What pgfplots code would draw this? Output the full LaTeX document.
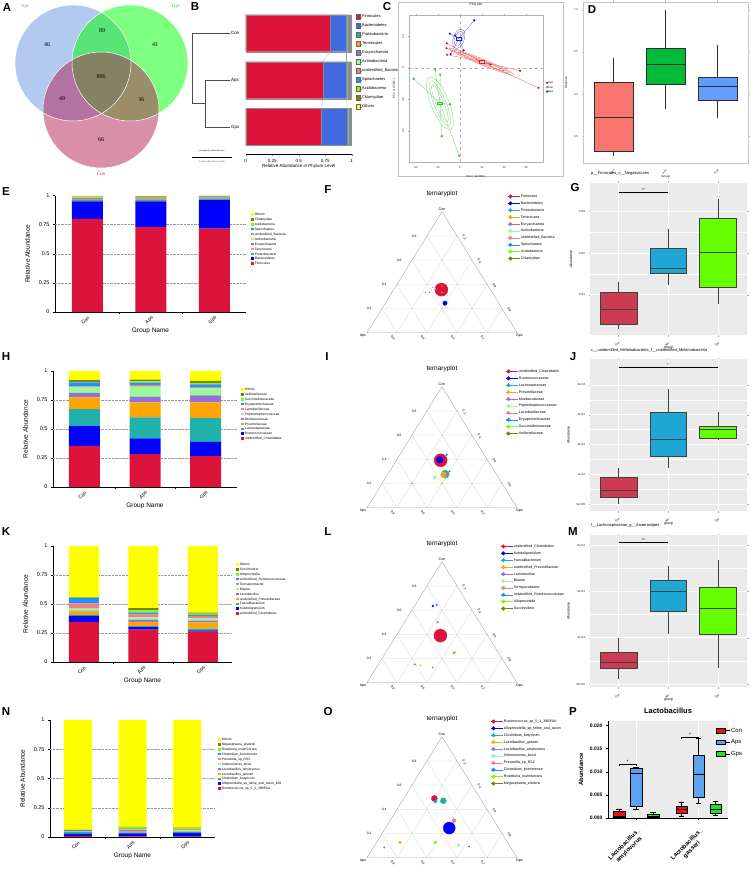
\documentclass[border=0pt]{standalone}
\usepackage{fontspec}
\setmainfont{Liberation Sans}
\newfontfamily\vennfont{Liberation Serif}
\usepackage{pgfplots}
\usepackage{pgfplotstable}
\pgfplotsset{compat=1.18}
\usepgfplotslibrary{statistics}
\usetikzlibrary{shapes.geometric}

\newcommand{\fs}[1]{\fontsize{#1}{#1}\selectfont}

% palette of the stacked bars, rank 1..10 and Others
\definecolor{c1}{HTML}{DC143C}
\definecolor{c2}{HTML}{0000FF}
\definecolor{c3}{HTML}{20B2AA}
\definecolor{c4}{HTML}{FFA500}
\definecolor{c5}{HTML}{9370DB}
\definecolor{c6}{HTML}{98FB98}
\definecolor{c7}{HTML}{F08080}
\definecolor{c8}{HTML}{1E90FF}
\definecolor{c9}{HTML}{7CFC00}
\definecolor{c10}{HTML}{808000}
\definecolor{c11}{HTML}{FFFF00}
\colorlet{b1}{c1}\definecolor{b2}{HTML}{4169E1}\colorlet{b3}{c3}\colorlet{b4}{c4}
\colorlet{b5}{c5}\colorlet{b6}{c6}\colorlet{b7}{c7}\colorlet{b8}{c8}
\colorlet{b9}{c9}\colorlet{b10}{c10}\colorlet{b11}{c11}
\definecolor{vA}{HTML}{6693E1}
\definecolor{vG}{HTML}{00FF00}
\definecolor{vC}{HTML}{B31F51}
\definecolor{pcaR}{HTML}{E41A1C}
\definecolor{pcaG}{HTML}{33C033}
\definecolor{pcaB}{HTML}{1A1ADD}
\definecolor{dCon}{HTML}{F8766D}
\definecolor{dAps}{HTML}{00BA38}
\definecolor{dGps}{HTML}{619CFF}
\definecolor{gCon}{HTML}{CC3D54}
\definecolor{gAps}{HTML}{1FA8D6}
\definecolor{gGps}{HTML}{66FF00}
\definecolor{pCon}{HTML}{EE1111}
\definecolor{pAps}{HTML}{5DA2EE}
\definecolor{pGps}{HTML}{22E022}
\definecolor{ggbg}{HTML}{EBEBEB}

% relative abundance, columns = rank 1..10 and Others; x: 0 Con, 1 Aps, 2 Gps
\pgfplotstableread{
x c1 c2 c3 c4 c5 c6 c7 c8 c9 c10 c11
0 0.800 0.150 0.012 0.010 0.005 0.004 0.003 0.004 0.002 0.003 0.007
1 0.730 0.220 0.012 0.008 0.005 0.004 0.003 0.005 0.002 0.004 0.007
2 0.715 0.245 0.012 0.008 0.004 0.003 0.002 0.003 0.002 0.002 0.004
}\phylum
\pgfplotstableread{
x c1 c2 c3 c4 c5 c6 c7 c8 c9 c10 c11
0 0.355 0.170 0.147 0.100 0.040 0.050 0.005 0.035 0.005 0.015 0.078
1 0.284 0.136 0.180 0.130 0.050 0.085 0.015 0.020 0.010 0.015 0.075
2 0.267 0.123 0.203 0.137 0.060 0.065 0.005 0.025 0.010 0.020 0.085
}\family
\pgfplotstableread{
x c1 c2 c3 c4 c5 c6 c7 c8 c9 c10 c11
0 0.345 0.052 0.008 0.030 0.005 0.020 0.045 0.045 0.005 0.005 0.440
1 0.280 0.020 0.010 0.035 0.020 0.020 0.025 0.015 0.020 0.020 0.535
2 0.262 0.010 0.015 0.055 0.015 0.020 0.020 0.010 0.010 0.008 0.575
}\genus
\pgfplotstableread{
x c1 c2 c3 c4 c5 c6 c7 c8 c9 c10 c11
0 0.0098 0.018 0.014 0.002 0.001 0.002 0.0046 0.007 0.0025 0.0006 0.9385
1 0.0061 0.025 0.008 0.011 0.010 0.007 0.0040 0.0047 0.0096 0.0016 0.9130
2 0.0041 0.032 0.008 0.002 0.001 0.011 0.0064 0.0033 0.0078 0.0038 0.9206
}\species

\pgfplotsset{
  every axis/.append style={scale only axis, /pgf/number format/assume math mode=true},
  stackbars/.style={
    ybar stacked, anchor=south west, ymin=0, ymax=1,
    axis x line*=bottom, axis y line*=left, axis line style={line width=0.5pt},
    xtick={0,1,2}, xticklabels={Con,Aps,Gps}, xtick style={draw=none},
    ytick={0,0.25,0.5,0.75,1}, yticklabels={0,0.25,0.5,0.75,1},
    ytick style={draw=black, line width=0.4pt}, tick align=outside, major tick length=2pt,
    extra y ticks={0.25,0.5,0.75}, extra y tick labels={},
    extra y tick style={grid=major, major tick length=0pt},
    major grid style={densely dotted, gray!80, line width=0.4pt},
    y tick label style={font=\fs{5.5}},
    x tick label style={font=\fs{5}, rotate=45, anchor=north east, inner sep=1pt},
    xlabel={Group Name}, ylabel={Relative Abundance}, label style={font=\fs{6.5}},
    xlabel style={at={(axis description cs:0.5,0)}, anchor=north, yshift=-12.5pt},
    clip=false,
    legend style={anchor=north west, draw=none, fill=none, font=\fs{3.3},
      row sep=0.8pt, inner sep=0pt,
      nodes={inner sep=0.3pt, text height=2.7pt, text depth=0.8pt}},
    legend cell align=left, reverse legend,
    legend image code/.code={\path (0pt,0pt) -- (3.4pt,0pt);
      \fill[##1,/tikz/.cd] (0pt,-0.9pt) rectangle (2.4pt,1.5pt);},
  },
  tern/.style={anchor=south west, width=150pt, height=121pt,
    xmin=0, xmax=1, ymin=0, ymax=0.866, hide axis, clip=false,
    legend style={anchor=north west, draw=none, fill=none,
      font=\fs{3.6}, row sep=2.7pt, inner sep=0pt,
      nodes={inner sep=0.3pt, text height=2.8pt, text depth=0.8pt}},
    legend cell align=left,
  },
  ternleg/.style={legend image code/.code={\path (0pt,0pt) -- (12pt,0pt);
      \fill[##1] (2pt,0pt) circle (1.8pt);}},
  ggbox/.style={anchor=south west, width=157pt, height=152pt,
    xmin=0.427, xmax=3.583, axis background/.style={fill=ggbg},
    axis line style={draw=none}, xmajorgrids, ymajorgrids,
    grid style={white, line width=0.6pt},
    minor y tick num=1, yminorgrids, minor grid style={white, line width=0.3pt},
    minor tick length=0pt,
    xtick={1,2,3}, xticklabels={Con,Aps,Gps},
    tick style={draw=gray!60}, major tick length=1.5pt, tick align=outside,
    x tick label style={rotate=45, anchor=north east, font=\fs{3}, text=gray!30!black},
    y tick label style={font=\fs{3}, text=gray!30!black},
    xlabel={group}, ylabel={Abundance}, label style={font=\fs{3.5}},
    xlabel style={at={(axis description cs:0.5,0)}, anchor=north, yshift=-8pt},
    title style={at={(0,1)}, anchor=south west, font=\fs{4}, inner sep=1pt},
    scaled y ticks=false, clip=false, boxplot/draw direction=y,
  },
}

% ternary point: colour, size, Con, Aps, Gps shares
\newcommand{\tp}[5]{\addplot[only marks, mark=*, color=#1, mark size=#2pt, ternleg]
  table[row sep=\\, x expr={\thisrow{g}+0.5*\thisrow{c}}, y expr={0.866*\thisrow{c}}]
  {c a g\\ #3 #4 #5\\};}

\newcommand{\ternframe}{%
  \draw[gray!35, line width=0.25pt]
    (axis cs:0.1,0.1732) -- (axis cs:0.9,0.1732)
    (axis cs:0.2,0.3464) -- (axis cs:0.8,0.3464)
    (axis cs:0.3,0.5196) -- (axis cs:0.7,0.5196)
    (axis cs:0.4,0.6928) -- (axis cs:0.6,0.6928)
    (axis cs:0.2,0) -- (axis cs:0.6,0.6928)
    (axis cs:0.4,0) -- (axis cs:0.7,0.5196)
    (axis cs:0.6,0) -- (axis cs:0.8,0.3464)
    (axis cs:0.8,0) -- (axis cs:0.9,0.1732)
    (axis cs:0.8,0) -- (axis cs:0.4,0.6928)
    (axis cs:0.6,0) -- (axis cs:0.3,0.5196)
    (axis cs:0.4,0) -- (axis cs:0.2,0.3464)
    (axis cs:0.2,0) -- (axis cs:0.1,0.1732);
  \draw[gray!75, line width=0.35pt] (axis cs:0,0) -- (axis cs:1,0) -- (axis cs:0.5,0.866) -- cycle;
  \node[font=\fs{6.5}] at (axis cs:0.5,0.866) [yshift=18pt] {ternaryplot};
  \node[font=\fs{3.6}, anchor=south, inner sep=0.8pt] at (axis cs:0.5,0.866) {Con};
  \node[font=\fs{3.6}, anchor=north east, inner sep=0.8pt] at (axis cs:0,0) {Aps};
  \node[font=\fs{3.6}, anchor=north west, inner sep=0.8pt] at (axis cs:1,0) [xshift=-2pt] {Gps};
  \node[font=\fs{3.3}, anchor=east] at (axis cs:0.4,0.6928) [xshift=-7pt] {0.8};
  \node[font=\fs{3.3}, anchor=east] at (axis cs:0.3,0.5196) [xshift=-7pt] {0.6};
  \node[font=\fs{3.3}, anchor=east] at (axis cs:0.2,0.3464) [xshift=-7pt] {0.4};
  \node[font=\fs{3.3}, anchor=east] at (axis cs:0.1,0.1732) [xshift=-7pt] {0.2};
  \node[font=\fs{3.3}, rotate=-60] at (axis cs:0.6,0.6928) [xshift=4.7pt, yshift=5.8pt] {0.2};
  \node[font=\fs{3.3}, rotate=-60] at (axis cs:0.7,0.5196) [xshift=4.7pt, yshift=5.8pt] {0.4};
  \node[font=\fs{3.3}, rotate=-60] at (axis cs:0.8,0.3464) [xshift=4.7pt, yshift=5.8pt] {0.6};
  \node[font=\fs{3.3}, rotate=-60] at (axis cs:0.9,0.1732) [xshift=4.7pt, yshift=5.8pt] {0.8};
  \node[font=\fs{3.3}, rotate=-60] at (axis cs:0.2,0) [xshift=2pt, yshift=-6pt] {0.8};
  \node[font=\fs{3.3}, rotate=-60] at (axis cs:0.4,0) [xshift=2pt, yshift=-6pt] {0.6};
  \node[font=\fs{3.3}, rotate=-60] at (axis cs:0.6,0) [xshift=2pt, yshift=-6pt] {0.4};
  \node[font=\fs{3.3}, rotate=-60] at (axis cs:0.8,0) [xshift=2pt, yshift=-6pt] {0.2};
}

\begin{document}
\begin{tikzpicture}
\useasboundingbox (0pt,0pt) rectangle (750pt,-877pt);

% panel letters
\foreach \l/\x/\y in {A/7/8,B/195/7,C/387/7,D/592/10,E/6/192,F/328/190,G/575/188,
  H/6/357,I/327/357,J/573/357,K/6/532,L/328/532,M/573/532,N/6/712,O/328/712,P/573/712}
  \node[font=\bfseries\fs{11.5}] at (\x pt,-\y pt) {\l};

% ---------- A: Venn ----------
\begin{axis}[at={(0pt,0pt)}, anchor=north west, width=190pt, height=180pt,
  xmin=0, xmax=190, ymin=0, ymax=180, y dir=reverse, hide axis, clip=false]
\fill[vA, fill opacity=0.5] (axis cs:73,63) circle[radius=58pt];
\fill[vG, fill opacity=0.5] (axis cs:130,63) circle[radius=58pt];
\fill[vC, fill opacity=0.5] (axis cs:101,110) circle[radius=58pt];
\draw[white, line width=0.5pt] (axis cs:73,63) circle[radius=58pt]
  (axis cs:130,63) circle[radius=58pt] (axis cs:101,110) circle[radius=58pt];
\node[font=\vennfont\fs{6}] at (axis cs:47,45) {46};
\node[font=\vennfont\fs{6}] at (axis cs:102,31) {89};
\node[font=\vennfont\fs{6}] at (axis cs:155,45) {41};
\node[font=\vennfont\fs{6}] at (axis cs:101,77) {806};
\node[font=\vennfont\fs{6}] at (axis cs:62,99) {49};
\node[font=\vennfont\fs{6}] at (axis cs:141,100) {36};
\node[font=\vennfont\fs{6}] at (axis cs:101,140) {66};
\node[font=\vennfont\fs{5}, text=vA] at (axis cs:25,6) {Aps};
\node[font=\vennfont\fs{5}, text=pcaG] at (axis cs:176,6) {Gps};
\node[font=\vennfont\fs{5}, text=c1] at (axis cs:101,174) {Con};
\end{axis}

% ---------- B: cluster + phylum bars ----------
\begin{axis}[xbar stacked, at={(245.7pt,-154pt)}, anchor=south west, width=106pt, height=142pt,
  xmin=0, xmax=1, ymin=-0.574, ymax=2.45, bar width=37pt,
  axis x line*=bottom, axis y line=none, axis line style={line width=0.4pt},
  xtick={0,0.25,0.5,0.75,1}, xticklabels={0,0.25,0.5,0.75,1},
  tick align=outside, major tick length=2pt, x tick label style={font=\fs{4.5}},
  xlabel={Relative Abundance in Phylum Level},
  xlabel style={font=\fs{4.5}, at={(axis description cs:0.5,0)}, anchor=north, yshift=-7pt},
  legend style={at={(1.04,0.989)}, anchor=north west, draw=none, fill=none, font=\fs{4},
    row sep=3.3pt, inner sep=0pt, nodes={inner sep=0.3pt, text height=3.8pt, text depth=1.3pt}},
  legend cell align=left,
  legend image code/.code={\path (0pt,0pt) -- (5.5pt,0pt);
    \draw[#1,/tikz/.cd, draw=black!60, line width=0.2pt] (0pt,-2pt) rectangle (4pt,2.6pt);}]
\pgfplotsinvokeforeach{1,...,11}{\addplot[fill=b#1, draw=black!45, line width=0.15pt]
  table[x=c#1, y expr={2-\thisrow{x}}] {\phylum};}
\legend{Firmicutes,Bacteroidetes,Proteobacteria,Tenericutes,Euryarchaeota,Actinobacteria,
  unidentified\_Bacteria,Spirochaetes,Acidobacteria,Chlamydiae,Others}
\end{axis}
\begin{axis}[at={(245.7pt,-154pt)}, anchor=south west, width=106pt, height=142pt,
  xmin=0, xmax=1, ymin=-0.574, ymax=2.45, hide axis, clip=false]
\addplot[gray!60!black, line width=0.45pt] coordinates {(-0.148,2) (-0.507,2) (-0.507,0.5) (-0.382,0.5)};
\addplot[gray!60!black, line width=0.45pt] coordinates {(-0.148,1) (-0.382,1) (-0.382,0) (-0.148,0)};
\addplot[gray!70, line width=0.2pt] coordinates {(0.80,1.606) (0.73,1.394)};
\addplot[gray!70, line width=0.2pt] coordinates {(0.95,1.606) (0.95,1.394)};
\addplot[gray!70, line width=0.2pt] coordinates {(0.73,0.606) (0.715,0.394)};
\addplot[gray!70, line width=0.2pt] coordinates {(0.95,0.606) (0.96,0.394)};
\node[font=\fs{4.5}, anchor=west, inner sep=1pt] at (axis cs:-0.148,2) {Con};
\node[font=\fs{4.5}, anchor=west, inner sep=1pt] at (axis cs:-0.148,1) {Aps};
\node[font=\fs{4.5}, anchor=west, inner sep=1pt] at (axis cs:-0.148,0) {Gps};
\addplot[black, line width=0.3pt] coordinates {(-0.507,-0.64) (-0.13,-0.64)};
\node[font=\fs{2}] at (axis cs:-0.32,-0.52) {unweighted\_unifrac Distance};
\node[font=\fs{1.8}] at (axis cs:-0.32,-0.75) {0 \ 0.025 \ 0.05 \ 0.075 \ 0.1 \ 0.125};
\end{axis}

% ---------- C: PCA ----------
\draw[gray!50, line width=0.3pt] (398pt,-2pt) rectangle (563pt,-176pt);
\begin{axis}[at={(409pt,-162pt)}, anchor=south west, width=134pt, height=147pt,
  xmin=-23, xmax=37.6, ymin=-29.8, ymax=16.8,
  axis line style={gray!60, line width=0.3pt}, tick style={gray!60}, major tick length=1.2pt,
  tick align=outside, xtick={-20,-10,0,10,20,30}, xticklabels={-20,-10,0,10,20,30},
  ytick={-20,-10,0,10}, yticklabels={-20,-10,0,10},
  tick label style={font=\fs{2.8}, text=gray!30!black}, y tick label style={rotate=90},
  xlabel={PC1 ( 14.63\% )}, ylabel={PC2 ( 10.59\% )}, label style={font=\fs{2.8}},
  title={PCA plot}, title style={font=\fs{3.2}, yshift=-1pt}, clip=false,
  legend style={at={(1.022,0.551)}, anchor=north west, draw=none, fill=none, font=\fs{2.8},
    row sep=1.2pt, inner sep=0pt, nodes={inner sep=0.2pt, text height=2.2pt, text depth=0.6pt}},
  legend cell align=left]
\addplot[only marks, mark=*, mark size=0.9pt, color=pcaR] coordinates
  {(-5.9,7.8) (-6.1,6.3) (-5.8,4.2) (13.8,1.1) (27.3,-0.9) (35.6,-6.3)};
\addplot[only marks, mark=*, mark size=0.9pt, color=pcaG] coordinates
  {(-20.9,-3.4) (-11.2,-0.5) (-8.9,-2.1) (-4.4,-11.5) (-8.2,-21.6) (-0.3,-27.9)};
\addplot[only marks, mark=*, mark size=0.9pt, color=pcaB] coordinates
  {(6.5,15.1) (-4.5,10.9) (-2.1,10.3) (1.7,5.6) (-4.2,4.4)};
\legend{Aps,Con,Gps}
\draw[gray!60, dashed, line width=0.25pt] (axis cs:0,-29.8) -- (axis cs:0,16.8)
  (axis cs:-23,0) -- (axis cs:37.6,0);
\addplot[pcaR!70, line width=0.3pt, forget plot] coordinates {(-5.9,7.8) (9.8,2.0) (-6.1,6.3)
  (9.8,2.0) (-5.8,4.2) (9.8,2.0) (13.8,1.1) (9.8,2.0) (27.3,-0.9) (9.8,2.0) (35.6,-6.3)};
\addplot[pcaG!70, line width=0.3pt, forget plot] coordinates {(-20.9,-3.4) (-9.0,-11.2) (-11.2,-0.5)
  (-9.0,-11.2) (-8.9,-2.1) (-9.0,-11.2) (-4.4,-11.5) (-9.0,-11.2) (-8.2,-21.6) (-9.0,-11.2) (-0.3,-27.9)};
\addplot[pcaB!70, line width=0.3pt, forget plot] coordinates {(6.5,15.1) (-0.5,9.3) (-4.5,10.9)
  (-0.5,9.3) (-2.1,10.3) (-0.5,9.3) (1.7,5.6) (-0.5,9.3) (-4.2,4.4)};
\node[draw=pcaR!70, ellipse, minimum width=70pt, minimum height=6pt, inner sep=0pt, rotate=-22, line width=0.3pt] at (axis cs:9.8,2.0) {};
\node[draw=pcaR!70, ellipse, minimum width=60pt, minimum height=4pt, inner sep=0pt, rotate=-22, line width=0.3pt] at (axis cs:9.8,2.0) {};
\node[draw=pcaR!70, ellipse, minimum width=50pt, minimum height=2.5pt, inner sep=0pt, rotate=-22, line width=0.3pt] at (axis cs:9.8,2.0) {};
\node[draw=pcaG!70, ellipse, minimum width=56pt, minimum height=18pt, inner sep=0pt, rotate=-68, line width=0.3pt] at (axis cs:-9.0,-11.2) {};
\node[draw=pcaG!70, ellipse, minimum width=48pt, minimum height=12pt, inner sep=0pt, rotate=-68, line width=0.3pt] at (axis cs:-9.0,-11.2) {};
\node[draw=pcaG!70, ellipse, minimum width=40pt, minimum height=8pt, inner sep=0pt, rotate=-68, line width=0.3pt] at (axis cs:-9.0,-11.2) {};
\node[draw=pcaB!70, ellipse, minimum width=20pt, minimum height=11pt, inner sep=0pt, rotate=70, line width=0.3pt] at (axis cs:-0.5,9.3) {};
\node[draw=pcaB!70, ellipse, minimum width=15pt, minimum height=8pt, inner sep=0pt, rotate=70, line width=0.3pt] at (axis cs:-0.5,9.3) {};
\node[draw=pcaR, fill=white, font=\fs{2.2}, inner sep=0.5pt, text=pcaR] at (axis cs:9.8,2.0) {Aps};
\node[draw=pcaG, fill=white, font=\fs{2.2}, inner sep=0.5pt, text=pcaG] at (axis cs:-9.0,-11.2) {Con};
\node[draw=pcaB, fill=white, font=\fs{2.2}, inner sep=0.5pt, text=pcaB] at (axis cs:-0.5,9.3) {Gps};
\end{axis}

% ---------- D: alpha diversity ----------
\begin{axis}[at={(583pt,-163pt)}, anchor=south west, width=165pt, height=161pt,
  xmin=0.413, xmax=3.587, ymin=5.18, ymax=7.095, boxplot/draw direction=y,
  axis line style={gray!45, line width=0.4pt}, xtick={1,2,3}, xticklabels={Con,Aps,Gps},
  ytick={5.5,6,6.5,7}, yticklabels={5.5,6.0,6.5,7.0},
  tick style={gray!50}, major tick length=1.5pt, tick align=outside,
  tick label style={font=\fs{2.8}, text=gray!30!black},
  x tick label style={rotate=45, anchor=north east},
  xlabel={Group}, ylabel={Shannon}, label style={font=\fs{3}},
  xlabel style={at={(axis description cs:0.5,0)}, anchor=north, yshift=-8.5pt}]
\addplot[fill=dCon, draw=gray!35!black, line width=0.3pt, boxplot prepared={draw position=1,
  median=5.73, upper quartile=6.14, lower quartile=5.32, upper whisker=6.43, lower whisker=5.26,
  box extend=0.75, whisker extend=0}] coordinates {};
\addplot[fill=dAps, draw=gray!35!black, line width=0.3pt, boxplot prepared={draw position=2,
  median=6.35, upper quartile=6.55, lower quartile=6.12, upper whisker=7.0, lower whisker=5.82,
  box extend=0.75, whisker extend=0}] coordinates {};
\addplot[fill=dGps, draw=gray!35!black, line width=0.3pt, boxplot prepared={draw position=3,
  median=6.09, upper quartile=6.20, lower quartile=5.93, upper whisker=6.58, lower whisker=5.71,
  box extend=0.75, whisker extend=0}] coordinates {};
\end{axis}

% ---------- E: phylum bars ----------
\begin{axis}[stackbars, at={(55pt,-312pt)}, width=191pt, height=116.5pt,
  xmin=-0.512, xmax=2.5, bar width=31pt, legend style={at={(1.026,0.853)}}]
\pgfplotsinvokeforeach{1,...,11}{\addplot[fill=c#1, draw=none] table[x=x, y=c#1] {\phylum};}
\legend{Firmicutes,Bacteroidetes,Proteobacteria,Tenericutes,Euryarchaeota,Actinobacteria,
  unidentified\_Bacteria,Spirochaetes,Acidobacteria,Chlamydiae,Others}
\draw (axis cs:0.5,0) -- ++(0pt,-2pt) (axis cs:1.5,0) -- ++(0pt,-2pt);
\end{axis}

% ---------- F: phylum ternary ----------
\begin{axis}[tern, at={(367pt,-332.7pt)}, legend style={at={(0.94,1.145)}}]
\ternframe
\tp{c1}{6.5}{0.356}{0.325}{0.318}
\tp{c2}{2.2}{0.244}{0.358}{0.398}
\tp{c3}{0.5}{0.333}{0.333}{0.334}
\tp{c4}{0.5}{0.385}{0.308}{0.307}
\tp{c5}{0.4}{0.357}{0.357}{0.286}
\tp{c6}{0.4}{0.364}{0.364}{0.272}
\tp{c7}{0.4}{0.375}{0.375}{0.250}
\tp{c8}{0.4}{0.333}{0.417}{0.250}
\tp{c9}{0.3}{0.333}{0.333}{0.334}
\tp{c10}{0.3}{0.333}{0.444}{0.223}
\legend{Firmicutes,Bacteroidetes,Proteobacteria,Tenericutes,Euryarchaeota,Actinobacteria,
  unidentified\_Bacteria,Spirochaetes,Acidobacteria,Chlamydiae}
\end{axis}

% ---------- G ----------
\begin{axis}[ggbox, at={(590pt,-335pt)}, ymin=0.00034, ymax=0.0368,
  ytick={0.01,0.02,0.03}, yticklabels={0.01,0.02,0.03},
  title={p\_\_Firmicutes\_c\_\_Negativicutes}]
\addplot[fill=gCon, draw=black!75, line width=0.35pt, boxplot prepared={draw position=1,
  median=0.0066, upper quartile=0.0107, lower quartile=0.0030, upper whisker=0.0130,
  lower whisker=0.0018, box extend=0.74, whisker extend=0}] coordinates {};
\addplot[fill=gAps, draw=black!75, line width=0.35pt, boxplot prepared={draw position=2,
  median=0.0164, upper quartile=0.0212, lower quartile=0.0152, upper whisker=0.0258,
  lower whisker=0.0124, box extend=0.74, whisker extend=0}] coordinates {};
\addplot[fill=gGps, draw=black!75, line width=0.35pt, boxplot prepared={draw position=3,
  median=0.0202, upper quartile=0.0284, lower quartile=0.0118, upper whisker=0.0330,
  lower whisker=0.0078, box extend=0.74, whisker extend=0}] coordinates {};
\draw[line width=0.5pt] (axis cs:1,0.0346) -- (axis cs:2,0.0346)
  node[midway, above, font=\fs{4}, inner sep=0.3pt] {**};
\end{axis}

% ---------- H: family bars ----------
\begin{axis}[stackbars, at={(53pt,-487pt)}, width=184pt, height=116pt,
  xmin=-0.52, xmax=2.52, bar width=31pt, legend style={at={(1.022,0.857)}}]
\pgfplotsinvokeforeach{1,...,11}{\addplot[fill=c#1, draw=none] table[x=x, y=c#1] {\family};}
\legend{unidentified\_Clostridiales,Ruminococcaceae,Lachnospiraceae,Prevotellaceae,
  Muribaculaceae,Peptostreptococcaceae,Lactobacillaceae,Erysipelotrichaceae,
  Succinivibrionaceae,Veillonellaceae,Others}
\draw (axis cs:0.5,0) -- ++(0pt,-2pt) (axis cs:1.5,0) -- ++(0pt,-2pt);
\end{axis}

% ---------- I: family ternary ----------
\begin{axis}[tern, at={(367pt,-507.7pt)}, legend style={at={(0.927,1.145)}}]
\ternframe
\tp{c1}{6.5}{0.392}{0.313}{0.295}
\tp{c2}{3.3}{0.396}{0.317}{0.287}
\tp{c3}{4.0}{0.277}{0.340}{0.383}
\tp{c4}{2.9}{0.272}{0.354}{0.374}
\tp{c5}{1.5}{0.267}{0.333}{0.400}
\tp{c6}{1.8}{0.250}{0.425}{0.325}
\tp{c7}{0.7}{0.200}{0.600}{0.200}
\tp{c8}{1.0}{0.438}{0.250}{0.312}
\tp{c9}{0.7}{0.200}{0.400}{0.400}
\tp{c10}{0.8}{0.300}{0.300}{0.400}
\legend{unidentified\_Clostridiales,Ruminococcaceae,Lachnospiraceae,Prevotellaceae,
  Muribaculaceae,Peptostreptococcaceae,Lactobacillaceae,Erysipelotrichaceae,
  Succinivibrionaceae,Veillonellaceae}
\end{axis}

% ---------- J (abundance in units of 1e-4) ----------
\begin{axis}[ggbox, at={(590pt,-511pt)}, ymin=-0.23, ymax=4.87,
  ytick={0,1,2,3,4}, yticklabels={0e+00,1e-04,2e-04,3e-04,4e-04},
  title={c\_\_unidentified\_Melainabacteria\_f\_\_unidentified\_Melainabacteria}]
\addplot[fill=gCon, draw=black!75, line width=0.35pt, boxplot prepared={draw position=1,
  median=0.47, upper quartile=0.90, lower quartile=0.23, upper whisker=1.20,
  lower whisker=0.0, box extend=0.74, whisker extend=0}] coordinates {};
\addplot[fill=gAps, draw=black!75, line width=0.35pt, boxplot prepared={draw position=2,
  median=2.17, upper quartile=3.07, lower quartile=1.60, upper whisker=3.87,
  lower whisker=1.20, box extend=0.74, whisker extend=0}] coordinates {};
\addplot[fill=gGps, draw=black!75, line width=0.35pt, boxplot prepared={draw position=3,
  median=2.53, upper quartile=2.63, lower quartile=2.20, upper whisker=3.10,
  lower whisker=2.17, box extend=0.74, whisker extend=0}] coordinates {};
\draw[line width=0.5pt] (axis cs:1,4.6) -- (axis cs:3,4.6)
  node[midway, above, font=\fs{4}, inner sep=0.3pt] {*};
\end{axis}

% ---------- K: genus bars ----------
\begin{axis}[stackbars, at={(53pt,-662pt)}, width=179pt, height=116pt,
  xmin=-0.52, xmax=2.49, bar width=30pt, legend style={at={(1.022,0.857)}}]
\pgfplotsinvokeforeach{1,...,11}{\addplot[fill=c#1, draw=none] table[x=x, y=c#1] {\genus};}
\legend{unidentified\_Clostridiales,Subdoligranulum,Faecalibacterium,
  unidentified\_Prevotellaceae,Lactobacillus,Blautia,Terrisporobacter,
  unidentified\_Ruminococcaceae,Alloprevotella,Succinivibrio,Others}
\draw (axis cs:0.5,0) -- ++(0pt,-2pt) (axis cs:1.5,0) -- ++(0pt,-2pt);
\end{axis}

% ---------- L: genus ternary ----------
\begin{axis}[tern, at={(367pt,-682.7pt)}, legend style={at={(0.893,1.145)}}]
\ternframe
\tp{c1}{6.5}{0.389}{0.316}{0.295}
\tp{c2}{1.0}{0.634}{0.244}{0.122}
\tp{c3}{0.6}{0.242}{0.303}{0.455}
\tp{c4}{1.3}{0.250}{0.292}{0.458}
\tp{c5}{0.7}{0.125}{0.500}{0.375}
\tp{c6}{0.8}{0.333}{0.333}{0.334}
\tp{c7}{1.1}{0.500}{0.278}{0.222}
\tp{c8}{0.9}{0.643}{0.214}{0.143}
\tp{c9}{0.7}{0.143}{0.571}{0.286}
\tp{c10}{0.7}{0.152}{0.606}{0.242}
\legend{unidentified\_Clostridiales,Subdoligranulum,Faecalibacterium,
  unidentified\_Prevotellaceae,Lactobacillus,Blautia,Terrisporobacter,
  unidentified\_Ruminococcaceae,Alloprevotella,Succinivibrio}
\end{axis}

% ---------- M (abundance in units of 1e-4) ----------
\begin{axis}[ggbox, at={(590pt,-687pt)}, ymin=-0.13, ymax=6.44,
  ytick={0,2,4,6}, yticklabels={0e+00,2e-04,4e-04,6e-04},
  title={f\_\_Lachnospiraceae\_g\_\_Anaerostipes}]
\addplot[fill=gCon, draw=black!75, line width=0.35pt, boxplot prepared={draw position=1,
  median=0.94, upper quartile=1.37, lower quartile=0.69, upper whisker=1.97,
  lower whisker=0.21, box extend=0.74, whisker extend=0}] coordinates {};
\addplot[fill=gAps, draw=black!75, line width=0.35pt, boxplot prepared={draw position=2,
  median=4.00, upper quartile=4.50, lower quartile=3.13, upper whisker=5.10,
  lower whisker=2.15, box extend=0.74, whisker extend=0}] coordinates {};
\addplot[fill=gGps, draw=black!75, line width=0.35pt, boxplot prepared={draw position=3,
  median=3.26, upper quartile=4.20, lower quartile=2.15, upper whisker=5.36,
  lower whisker=0.69, box extend=0.74, whisker extend=0}] coordinates {};
\draw[line width=0.5pt] (axis cs:1,6.14) -- (axis cs:2,6.14)
  node[midway, above, font=\fs{4}, inner sep=0.3pt] {**};
\end{axis}

% ---------- N: species bars ----------
\begin{axis}[stackbars, at={(50pt,-837pt)}, width=165pt, height=117pt,
  xmin=-0.51, xmax=2.51, bar width=28pt, legend style={at={(1.018,0.85)}}]
\pgfplotsinvokeforeach{1,...,11}{\addplot[fill=c#1, draw=none] table[x=x, y=c#1] {\species};}
\legend{Ruminococcus\_sp\_5\_1\_39BFAA,Alloprevotella\_sp\_feline\_oral\_taxon\_109,
  Clostridium\_butyricum,Lactobacillus\_gasseri,Lactobacillus\_amylovorus,Selenomonas\_bovis,
  Prevotella\_sp\_RS2,Clostridium\_bornimense,Roseburia\_inulinivorans,Megasphaera\_elsdenii,Others}
\draw (axis cs:0.5,0) -- ++(0pt,-2pt) (axis cs:1.5,0) -- ++(0pt,-2pt);
\end{axis}

% ---------- O: species ternary ----------
\begin{axis}[tern, at={(367pt,-857.7pt)}, legend style={at={(0.827,1.145)}}]
\ternframe
\tp{c1}{3.0}{0.490}{0.306}{0.204}
\tp{c2}{6.0}{0.245}{0.329}{0.426}
\tp{c3}{3.0}{0.471}{0.256}{0.273}
\tp{c4}{1.3}{0.126}{0.717}{0.157}
\tp{c5}{0.8}{0.085}{0.842}{0.073}
\tp{c6}{1.3}{0.105}{0.339}{0.556}
\tp{c7}{2.0}{0.306}{0.267}{0.427}
\tp{c8}{1.7}{0.465}{0.312}{0.223}
\tp{c9}{1.5}{0.126}{0.482}{0.392}
\tp{c10}{0.7}{0.093}{0.273}{0.634}
\legend{Ruminococcus\_sp\_5\_1\_39BFAA,Alloprevotella\_sp\_feline\_oral\_taxon,
  Clostridium\_butyricum,Lactobacillus\_gasseri,Lactobacillus\_amylovorus,Selenomonas\_bovis,
  Prevotella\_sp\_RS2,Clostridium\_bornimense,Roseburia\_inulinivorans,Megasphaera\_elsdenii}
\end{axis}

% ---------- P: Lactobacillus ----------
\begin{axis}[at={(608pt,-818pt)}, anchor=south west, width=120pt, height=97pt,
  xmin=0.552, xmax=2.472, ymin=0, ymax=0.021, boxplot/draw direction=y,
  axis background/.style={fill=ggbg}, axis x line*=bottom, axis y line*=left,
  axis line style={line width=0.8pt}, xmajorgrids, grid style={white, line width=0.8pt},
  xtick={1,2}, xticklabels={{Lactobacillus\_\\amylovorus},{Lactobacillus\_\\gasseri}},
  x tick label style={yshift=-7pt, xshift=1pt, rotate=45, anchor=north east, align=center,
    inner sep=0.5pt, font=\bfseries\fontsize{6}{7}\selectfont},
  ytick={0,0.005,0.01,0.015,0.02}, yticklabels={0.000,0.005,0.010,0.015,0.020},
  y tick label style={font=\bfseries\fs{5}}, scaled y ticks=false,
  tick style={black, line width=0.6pt}, major tick length=2pt, tick align=outside,
  ylabel={Abundance}, ylabel style={font=\bfseries\fs{6}},
  title={Lactobacillus}, title style={font=\bfseries\fs{7.5}, yshift=-2pt}, clip=false,
  legend style={at={(0.9,0.938)}, anchor=north west, draw=none, fill=none, font=\fs{6},
    row sep=5pt, inner sep=0pt, nodes={inner sep=0.5pt, text height=4.5pt, text depth=1.2pt}},
  legend cell align=left,
  legend image code/.code={\path (0pt,0pt) -- (14pt,0pt);
    \draw[#1, line width=0.5pt] (0pt,-2.3pt) rectangle (9pt,2.5pt);}]
\addplot[fill=pCon, draw=black, line width=0.4pt, forget plot, boxplot prepared={draw position=0.728,
  median=0.0004, upper quartile=0.0015, lower quartile=0.0002, upper whisker=0.0020,
  lower whisker=0.0001, box extend=0.184, whisker extend=0.09}] coordinates {};
\addplot[fill=pAps, draw=black, line width=0.4pt, forget plot, boxplot prepared={draw position=1,
  median=0.0096, upper quartile=0.0107, lower quartile=0.0025, upper whisker=0.0110,
  lower whisker=0.0020, box extend=0.184, whisker extend=0.09}] coordinates {};
\addplot[fill=pGps, draw=black, line width=0.4pt, forget plot, boxplot prepared={draw position=1.272,
  median=0.0004, upper quartile=0.0009, lower quartile=0.0002, upper whisker=0.0013,
  lower whisker=0.00005, box extend=0.184, whisker extend=0.09}] coordinates {};
\addplot[fill=pCon, draw=black, line width=0.4pt, forget plot, boxplot prepared={draw position=1.728,
  median=0.0018, upper quartile=0.0025, lower quartile=0.0010, upper whisker=0.0035,
  lower whisker=0.0005, box extend=0.184, whisker extend=0.09}] coordinates {};
\addplot[fill=pAps, draw=black, line width=0.4pt, forget plot, boxplot prepared={draw position=2,
  median=0.0094, upper quartile=0.0137, lower quartile=0.0046, upper whisker=0.0172,
  lower whisker=0.0033, box extend=0.184, whisker extend=0.09}] coordinates {};
\addplot[fill=pGps, draw=black, line width=0.4pt, forget plot, boxplot prepared={draw position=2.272,
  median=0.0018, upper quartile=0.0030, lower quartile=0.0010, upper whisker=0.0036,
  lower whisker=0.0007, box extend=0.184, whisker extend=0.09}] coordinates {};
\addlegendimage{fill=pCon, draw=black}\addlegendentry{Con}
\addlegendimage{fill=pAps, draw=black}\addlegendentry{Aps}
\addlegendimage{fill=pGps, draw=black}\addlegendentry{Gps}
\draw[line width=0.4pt] (axis cs:0.728,0.0113) -- (axis cs:0.728,0.0117) -- (axis cs:1,0.0117) -- (axis cs:1,0.0113);
\node[font=\fs{5}, anchor=south, inner sep=0.3pt] at (axis cs:0.864,0.0117) {*};
\draw[line width=0.4pt] (axis cs:1.728,0.0172) -- (axis cs:1.728,0.0176) -- (axis cs:2,0.0176) -- (axis cs:2,0.0172);
\node[font=\fs{5}, anchor=south, inner sep=0.3pt] at (axis cs:1.864,0.0176) {*};
\end{axis}

\end{tikzpicture}
\end{document}
